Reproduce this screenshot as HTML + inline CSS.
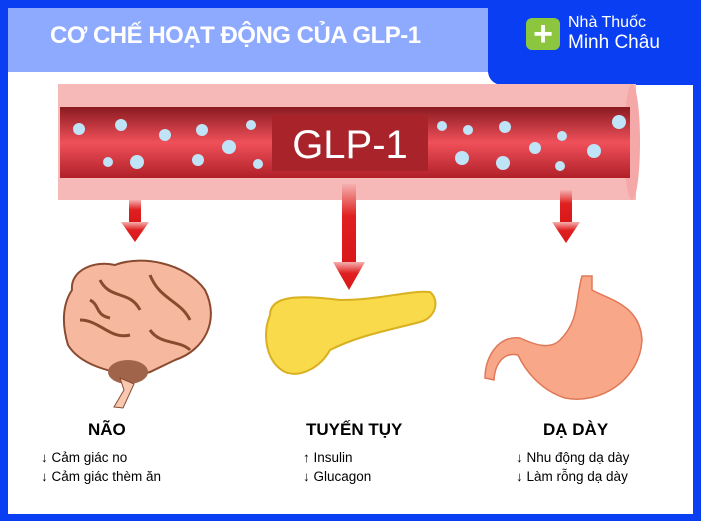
<!DOCTYPE html>
<html><head><meta charset="utf-8"><style>
body{margin:0;width:701px;height:521px;overflow:hidden;background:#fff;font-family:"Liberation Sans",sans-serif}
.abs{position:absolute}
</style></head><body>
<div class="abs" style="left:0;top:0;width:701px;height:521px;background:#0a3ef2"></div>
<div class="abs" style="left:8px;top:8px;width:685px;height:506px;background:#fff"></div>
<div class="abs" style="left:8px;top:8px;width:482px;height:64px;background:#8eaaff"></div>
<div class="abs" style="left:50px;top:22px;font-size:24px;font-weight:bold;color:#fff;letter-spacing:-0.5px">CƠ CHẾ HOẠT ĐỘNG CỦA GLP-1</div>
<div class="abs" style="left:488px;top:0;width:213px;height:85px;background:#0a3ef2;border-bottom-left-radius:14px"></div>
<div class="abs" style="left:526px;top:18px;width:34px;height:32px;background:#8cc63f;border-radius:6px;color:#fff;font-size:34px;font-weight:bold;line-height:32px;text-align:center">+</div>
<div class="abs" style="left:568px;top:13px;color:#fff;font-size:16px;line-height:20px">Nhà Thuốc<br><span style="font-size:19px">Minh Châu</span></div>
<svg class="abs" style="left:0;top:0" width="701" height="521">
<defs>
<linearGradient id="bl" x1="0" y1="0" x2="0" y2="1"><stop offset="0" stop-color="#8a1a20"/><stop offset="0.5" stop-color="#f0505a"/><stop offset="1" stop-color="#b02028"/></linearGradient>
<linearGradient id="ar" x1="0" y1="0" x2="0" y2="1"><stop offset="0" stop-color="#f5b0b0"/><stop offset="0.4" stop-color="#e02020"/><stop offset="1" stop-color="#d81818"/></linearGradient>
</defs>
<rect x="58" y="84" width="578" height="116" fill="#f7b9b8"/>
<ellipse cx="632" cy="142" rx="8" ry="58" fill="#f5a8a8"/>
<rect x="60" y="107" width="570" height="71" fill="url(#bl)"/>
<rect x="272" y="115" width="156" height="56" fill="#a8242a"/>
<text x="350" y="158" font-size="40" fill="#fff" text-anchor="middle" font-family="Liberation Sans">GLP-1</text>
<g fill="#bfe4f8">
<circle cx="79" cy="129" r="6"/><circle cx="121" cy="125" r="6"/><circle cx="165" cy="135" r="6"/><circle cx="202" cy="130" r="6"/><circle cx="251" cy="125" r="5"/><circle cx="229" cy="147" r="7"/><circle cx="108" cy="162" r="5"/><circle cx="137" cy="162" r="7"/><circle cx="198" cy="160" r="6"/><circle cx="258" cy="164" r="5"/>
<circle cx="442" cy="126" r="5"/><circle cx="468" cy="130" r="5"/><circle cx="505" cy="127" r="6"/><circle cx="462" cy="158" r="7"/><circle cx="503" cy="163" r="7"/><circle cx="535" cy="148" r="6"/><circle cx="562" cy="136" r="5"/><circle cx="594" cy="151" r="7"/><circle cx="560" cy="166" r="5"/><circle cx="619" cy="122" r="7"/>
</g>
<g fill="url(#ar)">
<rect x="129" y="200" width="12" height="24"/><polygon points="121,222 149,222 135,242"/>
<rect x="342" y="184" width="14" height="80"/><polygon points="333,262 365,262 349,290"/>
<rect x="560" y="190" width="12" height="34"/><polygon points="552,222 580,222 566,243"/>
</g>
<!-- brain -->
<path d="M72,290 C70,270 95,260 115,265 C140,255 185,262 205,290 C220,320 205,350 175,360 L150,372 L135,376 C110,372 80,365 68,345 C62,325 62,305 72,290Z" fill="#f6b9a0" stroke="#8a4a30" stroke-width="2"/>
<path d="M100,280 C110,300 130,290 140,310 M150,275 C160,300 180,300 190,320 M80,320 C100,320 110,340 130,335 M150,330 C160,345 180,340 190,350 M90,300 C100,305 95,315 110,318" stroke="#8a4a30" stroke-width="3" fill="none"/>
<ellipse cx="128" cy="372" rx="20" ry="12" fill="#a0644a"/>
<path d="M120,378 L124,390 L114,407 L123,408 L134,384Z" fill="#f8c8b0" stroke="#8a4a30"/>
<!-- pancreas -->
<path d="M270,315 C270,295 300,295 340,300 C380,300 410,290 430,292 C440,300 436,318 420,322 C390,330 360,335 330,350 C320,368 300,378 285,372 C266,362 262,335 270,315Z" fill="#f8da4a" stroke="#d8b020" stroke-width="2"/>
<!-- stomach -->
<path d="M582,276 C575,300 580,320 560,340 C550,350 535,345 520,338 C500,335 485,355 485,378 L494,380 C495,362 505,352 518,355 C525,370 540,390 565,398 C600,405 640,380 642,340 C640,305 610,300 592,290 L592,276Z" fill="#f8a888" stroke="#e07858" stroke-width="1.5"/>
</svg>
<div class="abs" style="left:88px;top:420px;font-size:17px;font-weight:bold">NÃO</div>
<div class="abs" style="left:306px;top:420px;font-size:17px;font-weight:bold">TUYẾN TỤY</div>
<div class="abs" style="left:543px;top:420px;font-size:17px;font-weight:bold">DẠ DÀY</div>
<div class="abs" style="left:41px;top:448px;font-size:13.5px;line-height:19px">↓ Cảm giác no<br>↓ Cảm giác thèm ăn</div>
<div class="abs" style="left:303px;top:448px;font-size:13.5px;line-height:19px">↑ Insulin<br>↓ Glucagon</div>
<div class="abs" style="left:516px;top:448px;font-size:13.5px;line-height:19px">↓ Nhu động dạ dày<br>↓ Làm rỗng dạ dày</div>
</body></html>
